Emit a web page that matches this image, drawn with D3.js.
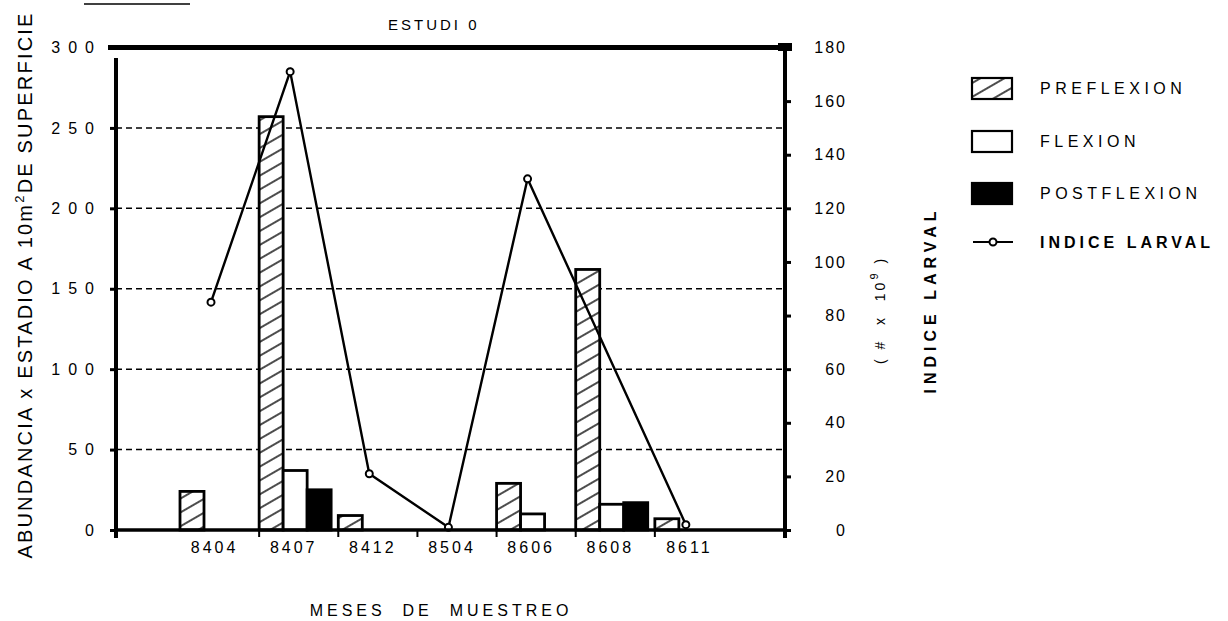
<!DOCTYPE html>
<html><head><meta charset="utf-8">
<script src="https://cdn.jsdelivr.net/npm/d3@7"></script>
<style>
body{margin:0;background:#fff;}
svg{display:block;font-family:"Liberation Sans",Arial,sans-serif;}
</style></head><body>
<svg id="chart" width="1228" height="621"></svg>
<script>
// ---- data ----
const months = ["8404","8407","8412","8504","8606","8608","8611"];
const preflexion  = [24, 257, 9, 0, 29, 162, 7];
const flexion     = [0, 37, 0, 0, 10, 16, 0];
const postflexion = [0, 25, 0, 0, 0, 17, 0];
const indiceLarval = [85, 171, 21, 1, 131, null, 2];
const leftTicks  = [0, 50, 100, 150, 200, 250, 300];
const rightTicks = [0, 20, 40, 60, 80, 100, 120, 140, 160, 180];
const gridValues = [50, 100, 150, 200, 250];
const seriesNames = ["PREFLEXION", "FLEXION", "POSTFLEXION"];
const legendLabels = ["PREFLEXION", "FLEXION", "POSTFLEXION", "INDICE LARVAL"];
const titleText = "ESTUDI 0";
const xTitle = "MESES  DE  MUESTREO";

// ---- layout ----
const X0 = 116, X1 = 785, Y0 = 530, YT = 47.5;
const svg = d3.select("#chart");

const x = d3.scaleBand().domain(months).range([180, 734]).paddingInner(0).paddingOuter(0);
const xs = d3.scaleBand().domain(seriesNames).range([0, 72]);
const yL = d3.scaleLinear().domain([0, 300]).range([Y0, YT]);
const yR = d3.scaleLinear().domain([0, 180]).range([Y0, YT]);

const defs = svg.append("defs");
const pat = defs.append("pattern").attr("id", "hatch")
  .attr("patternUnits", "userSpaceOnUse").attr("width", 10).attr("height", 12)
  .attr("patternTransform", "rotate(-30)");
pat.append("rect").attr("width", 10).attr("height", 12).attr("fill", "#fff");
pat.append("line").attr("x1", 0).attr("x2", 10).attr("y1", 6).attr("y2", 6)
  .attr("stroke", "#000").attr("stroke-width", 1.4);

// top-left underline fragment
svg.append("line").attr("x1", 84).attr("x2", 190).attr("y1", 4).attr("y2", 4)
  .attr("stroke", "#000").attr("stroke-width", 1.5);

// title
svg.append("text").attr("x", 388).attr("y", 30).attr("font-size", 15)
  .attr("letter-spacing", 3).style("white-space", "pre").text(titleText);

// gridlines
svg.append("g").selectAll("line").data(gridValues).join("line")
  .attr("x1", X0).attr("x2", X1)
  .attr("y1", d => yL(d)).attr("y2", d => yL(d))
  .attr("stroke", "#000").attr("stroke-width", 1.5).attr("stroke-dasharray", "6,4");

// bars
const seriesData = [preflexion, flexion, postflexion];
const fills = ["url(#hatch)", "#fff", "#000"];
seriesNames.forEach((s, si) => {
  svg.append("g").selectAll("rect")
    .data(months.map((m, i) => ({m, v: seriesData[si][i]})).filter(d => d.v > 0))
    .join("rect")
    .attr("x", d => x(d.m) + xs(s))
    .attr("width", xs.bandwidth())
    .attr("y", d => yL(d.v))
    .attr("height", d => yL(0) - yL(d.v))
    .attr("fill", fills[si]).attr("stroke", "#000").attr("stroke-width", 2.8);
});

// line (INDICE LARVAL), right axis
const lineData = months.map((m, i) => ({m, v: indiceLarval[i]})).filter(d => d.v != null);
const px = d => x(d.m) + 31;
svg.append("path").datum(lineData)
  .attr("d", d3.line().x(px).y(d => yR(d.v)))
  .attr("fill", "none").attr("stroke", "#000").attr("stroke-width", 2.4);
svg.append("g").selectAll("circle").data(lineData).join("circle")
  .attr("cx", px).attr("cy", d => yR(d.v)).attr("r", 3.5)
  .attr("fill", "#fff").attr("stroke", "#000").attr("stroke-width", 2);

// frame: top line, left axis, right axis, baseline
svg.append("line").attr("x1", 108).attr("x2", 790).attr("y1", YT).attr("y2", YT)
  .attr("stroke", "#000").attr("stroke-width", 5);
svg.append("rect").attr("x", 778).attr("y", 43).attr("width", 14).attr("height", 8).attr("fill", "#000");
svg.append("line").attr("x1", X0).attr("x2", X0).attr("y1", 58).attr("y2", Y0 + 8)
  .attr("stroke", "#000").attr("stroke-width", 4);
svg.append("line").attr("x1", X1).attr("x2", X1).attr("y1", YT).attr("y2", Y0 + 8)
  .attr("stroke", "#000").attr("stroke-width", 4);
svg.append("line").attr("x1", X0).attr("x2", X1).attr("y1", Y0).attr("y2", Y0)
  .attr("stroke", "#000").attr("stroke-width", 3.5);

// left axis
const gL = svg.append("g").attr("transform", `translate(${X0},0)`)
  .call(d3.axisLeft(yL).tickValues(leftTicks).tickSize(6).tickPadding(8).tickFormat(d3.format("d")));
gL.select(".domain").remove();
gL.selectAll(".tick line").attr("stroke-width", 3);
gL.selectAll(".tick text").attr("font-size", 16).attr("letter-spacing", 8)
  .attr("font-family", "Liberation Sans, Arial, sans-serif").attr("fill", "#000");

// right axis
const gR = svg.append("g").attr("transform", `translate(${X1},0)`)
  .call(d3.axisRight(yR).tickValues(rightTicks).tickSize(6).tickPadding(0).tickFormat(d3.format("d")));
gR.select(".domain").remove();
gR.selectAll(".tick line").attr("stroke-width", 3);
gR.selectAll(".tick text").attr("font-size", 16).attr("letter-spacing", 2)
  .attr("text-anchor", "end").attr("x", 62)
  .attr("font-family", "Liberation Sans, Arial, sans-serif").attr("fill", "#000");

// x axis labels and boundary ticks
const gX = svg.append("g").attr("transform", `translate(-5,${Y0})`)
  .call(d3.axisBottom(x).tickSize(0).tickPadding(12));
gX.select(".domain").remove();
gX.selectAll(".tick text").attr("font-size", 16).attr("letter-spacing", 3)
  .attr("font-family", "Liberation Sans, Arial, sans-serif").attr("fill", "#000");
svg.append("g").selectAll("line").data(months.slice(1)).join("line")
  .attr("x1", d => x(d)).attr("x2", d => x(d)).attr("y1", Y0).attr("y2", Y0 + 7)
  .attr("stroke", "#000").attr("stroke-width", 2);

// axis titles
svg.append("text").attr("x", 441).attr("y", 616).attr("text-anchor", "middle")
  .attr("font-size", 16).attr("letter-spacing", 4).style("white-space", "pre").text(xTitle);

const yt = svg.append("text").attr("transform", "translate(32,285) rotate(-90)")
  .attr("text-anchor", "middle").attr("font-size", 20).attr("letter-spacing", 2.2);
yt.append("tspan").text("ABUNDANCIA x ESTADIO A 10m");
yt.append("tspan").attr("font-size", 13).attr("dy", -8).text("2");
yt.append("tspan").attr("dy", 8).text("DE SUPERFICIE");

const r1 = svg.append("text").attr("transform", "translate(885,310) rotate(-90)")
  .attr("text-anchor", "middle").attr("font-size", 14).attr("letter-spacing", 3)
  .style("white-space", "pre");
r1.append("tspan").text("( #  x  10");
r1.append("tspan").attr("font-size", 11).attr("dy", -7).text("9");
r1.append("tspan").attr("dy", 7).text(" )");

svg.append("text").attr("transform", "translate(936,300) rotate(-90)")
  .attr("text-anchor", "middle").attr("font-size", 16).attr("font-weight", "bold")
  .attr("letter-spacing", 5).text("INDICE LARVAL");

// legend
const legY = [88, 141, 193, 242];
const lg = svg.append("g");
legendLabels.forEach((lab, i) => {
  if (i < 3) {
    lg.append("rect").attr("x", 972).attr("y", legY[i] - 10).attr("width", 40).attr("height", 21)
      .attr("fill", fills[i]).attr("stroke", "#000").attr("stroke-width", 2.2);
  } else {
    lg.append("line").attr("x1", 973).attr("x2", 1013).attr("y1", legY[i]).attr("y2", legY[i])
      .attr("stroke", "#000").attr("stroke-width", 2.2);
    lg.append("circle").attr("cx", 993).attr("cy", legY[i]).attr("r", 3.5)
      .attr("fill", "#fff").attr("stroke", "#000").attr("stroke-width", 2);
  }
  lg.append("text").attr("x", 1040).attr("y", legY[i]).attr("dy", "0.36em")
    .attr("font-size", 16).attr("letter-spacing", i === 3 ? 4 : 4.5)
    .attr("font-weight", i === 3 ? "bold" : "normal").text(lab);
});
</script>
</body></html>
